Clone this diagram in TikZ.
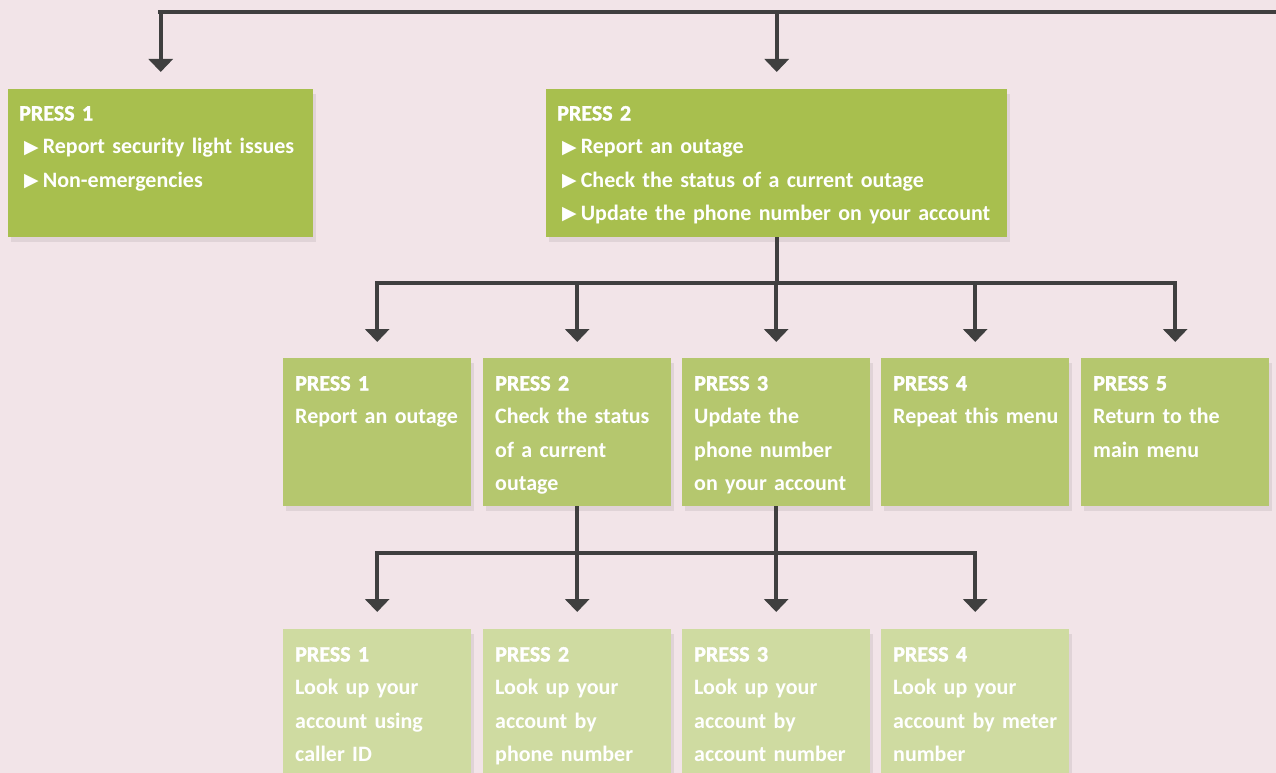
\documentclass[tikz,border=0pt]{standalone}
\usepackage{fontspec}
\setmainfont{Carlito}[UprightFont=* Bold, BoldFont=* Bold, BoldFeatures={FakeBold=1.6}]
\newfontfamily\symfont{DejaVu Sans}
\usetikzlibrary{arrows.meta,positioning,calc,shadows}
\definecolor{bgPink}{HTML}{F2E4E8}
\definecolor{lvlA}{HTML}{A8BF4E}
\definecolor{lvlB}{HTML}{B5C76E}
\definecolor{lvlC}{HTML}{CFDBA1}
\definecolor{wire}{HTML}{3F3F3F}
\tikzset{
  box/.style = {rectangle, anchor=north west, inner sep=0pt, minimum height=148pt,
    general shadow={fill=black, opacity=0.07, shadow xshift=3pt, shadow yshift=-5pt}},
  lbl/.style = {anchor=north west, inner sep=0pt, align=left, text=white, font=\fontsize{22}{33.3}\selectfont},
  bus/.style = {draw=wire, line width=4pt},
  drop/.style = {draw=wire, line width=4pt, -{Triangle[width=24pt,length=13pt]}},
}
\newcommand{\bul}{{\symfont\fontsize{19}{19}\selectfont\raisebox{0.5pt}{▶}}\hspace{4pt}}

\begin{document}
\begin{tikzpicture}[x=1pt,y=-1pt]
  \fill[bgPink] (0,0) rectangle (1276,773);
  \useasboundingbox (0,0) rectangle (1276,773);
  \clip (0,0) rectangle (1276,773);

  % main menu
  \node[box, fill=lvlA, minimum width=305pt] (main1) at (8,89) {};
  \node[box, fill=lvlA, minimum width=461pt] (main2) at (546,89) {};
  \node[lbl, text width=290pt] (main1t) at (19,97)
    {\strut\textbf{PRESS 1}\\\hspace*{5pt}\bul Report security light issues\\\hspace*{5pt}\bul Non-emergencies};
  \node[lbl, text width=450pt] (main2t) at (557,97)
    {\strut\textbf{PRESS 2}\\\hspace*{5pt}\bul Report an outage\\\hspace*{5pt}\bul Check the status of a current outage\\\hspace*{5pt}\bul Update the phone number on your account};

  % outage menu
  \foreach \n/\x/\txt in {
    1/283/{Report an outage},
    2/483/{Check the status\\of a current\\outage},
    3/682/{Update the\\phone number\\on your account},
    4/881/{Repeat this menu},
    5/1081/{Return to the\\main menu}
  }{
    \node[box, fill=lvlB, minimum width=188pt] (out\n) at (\x,358) {};
    \node[lbl, text width=180pt] (out\n t) at (\x+12,367) {\strut\textbf{PRESS \n}\\\txt};
  }

  % account lookup menu
  \foreach \n/\x/\txt in {
    1/283/{Look up your\\account using\\caller ID},
    2/483/{Look up your\\account by\\phone number},
    3/682/{Look up your\\account by\\account number},
    4/881/{Look up your\\account by meter\\number}
  }{
    \node[box, fill=lvlC, minimum width=188pt] (acc\n) at (\x,629) {};
    \node[lbl, text width=180pt] (acc\n t) at (\x+12,638) {\strut\textbf{PRESS \n}\\\txt};
  }

  % connectors
  \coordinate (topL) at (160,12);
  \coordinate (topR) at (1276,12);
  \draw[bus, line cap=rect] (topL) -- (topR);
  \draw[drop] (main1.north |- topL) -- ([yshift=17pt]main1.north);
  \draw[drop] (main2.north |- topL) -- ([yshift=17pt]main2.north);

  \coordinate (busAL) at (out1.north |- 0,283);
  \coordinate (busAR) at (out5.north |- 0,283);
  \draw[bus] (main2.south) -- (main2.south |- busAL);
  \draw[bus, line cap=rect] (busAL) -- (busAR);
  \foreach \n in {1,...,5}{
    \draw[drop] (out\n.north |- busAL) -- ([yshift=16pt]out\n.north);
  }

  \coordinate (busBL) at (acc1.north |- 0,553);
  \coordinate (busBR) at (acc4.north |- 0,553);
  \draw[bus] (out2.south) -- (out2.south |- busBL);
  \draw[bus] (out3.south) -- (out3.south |- busBL);
  \draw[bus, line cap=rect] (busBL) -- (busBR);
  \foreach \n in {1,...,4}{
    \draw[drop] (acc\n.north |- busBL) -- ([yshift=17pt]acc\n.north);
  }
\end{tikzpicture}
\end{document}
